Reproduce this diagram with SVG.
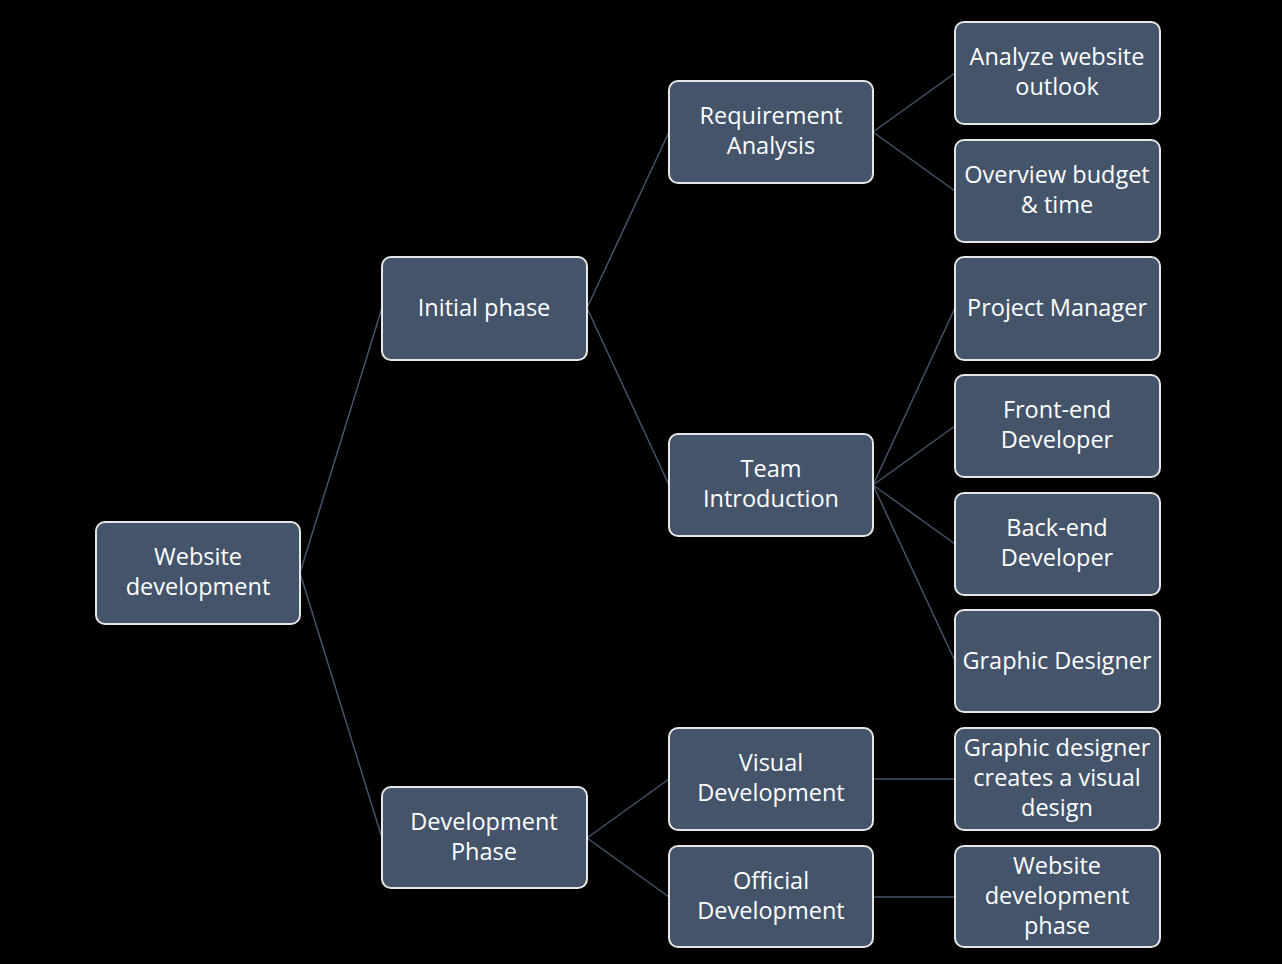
<svg xmlns="http://www.w3.org/2000/svg" width="1282" height="964" viewBox="0 0 1282 964">
<style>
.n rect{fill:#44546A;stroke:#E6E6E6;stroke-width:2}
.n text{fill:#FFFFFF;font-family:"Open Sans","Noto Sans",sans-serif;font-size:23.5px;text-anchor:middle}
.c line{stroke:#44546A;stroke-width:1.5}
</style>
<rect width="1282" height="964" fill="#000000"/>
<g class="c">
<line x1="300" y1="573" x2="382" y2="308"/>
<line x1="300" y1="573" x2="382" y2="838"/>
<line x1="587" y1="308" x2="669" y2="132"/>
<line x1="587" y1="308" x2="669" y2="485"/>
<line x1="587" y1="838" x2="669" y2="779"/>
<line x1="587" y1="838" x2="669" y2="897"/>
<line x1="873" y1="132" x2="955" y2="73"/>
<line x1="873" y1="132" x2="955" y2="191"/>
<line x1="873" y1="485" x2="955" y2="308"/>
<line x1="873" y1="485" x2="955" y2="426"/>
<line x1="873" y1="485" x2="955" y2="544"/>
<line x1="873" y1="485" x2="955" y2="661"/>
<line x1="873" y1="779" x2="955" y2="779"/>
<line x1="873" y1="897" x2="955" y2="897"/>
</g>
<g id="website-development" class="n"><rect x="96" y="522" width="204" height="102" rx="9"/><text x="198" y="565">Website</text><text x="198" y="595">development</text></g>
<g id="initial-phase" class="n"><rect x="382" y="257" width="205" height="103" rx="9"/><text x="484" y="316">Initial phase</text></g>
<g id="development-phase" class="n"><rect x="382" y="787" width="205" height="101" rx="9"/><text x="484" y="830">Development</text><text x="484" y="860">Phase</text></g>
<g id="requirement-analysis" class="n"><rect x="669" y="81" width="204" height="102" rx="9"/><text x="771" y="124">Requirement</text><text x="771" y="154">Analysis</text></g>
<g id="team-introduction" class="n"><rect x="669" y="434" width="204" height="102" rx="9"/><text x="771" y="477">Team</text><text x="771" y="507">Introduction</text></g>
<g id="visual-development" class="n"><rect x="669" y="728" width="204" height="102" rx="9"/><text x="771" y="771">Visual</text><text x="771" y="801">Development</text></g>
<g id="official-development" class="n"><rect x="669" y="846" width="204" height="101" rx="9"/><text x="771" y="889">Official</text><text x="771" y="919">Development</text></g>
<g id="analyze-website-outlook" class="n"><rect x="955" y="22" width="205" height="102" rx="9"/><text x="1057" y="65">Analyze website</text><text x="1057" y="95">outlook</text></g>
<g id="overview-budget" class="n"><rect x="955" y="140" width="205" height="102" rx="9"/><text x="1057" y="183">Overview budget</text><text x="1057" y="213">&amp; time</text></g>
<g id="project-manager" class="n"><rect x="955" y="257" width="205" height="103" rx="9"/><text x="1057" y="316">Project Manager</text></g>
<g id="front-end-developer" class="n"><rect x="955" y="375" width="205" height="102" rx="9"/><text x="1057" y="418">Front-end</text><text x="1057" y="448">Developer</text></g>
<g id="back-end-developer" class="n"><rect x="955" y="493" width="205" height="102" rx="9"/><text x="1057" y="536">Back-end</text><text x="1057" y="566">Developer</text></g>
<g id="graphic-designer" class="n"><rect x="955" y="610" width="205" height="102" rx="9"/><text x="1057" y="669">Graphic Designer</text></g>
<g id="graphic-designer-visual" class="n"><rect x="955" y="728" width="205" height="102" rx="9"/><text x="1057" y="756">Graphic designer</text><text x="1057" y="786">creates a visual</text><text x="1057" y="816">design</text></g>
<g id="website-development-phase" class="n"><rect x="955" y="846" width="205" height="101" rx="9"/><text x="1057" y="874">Website</text><text x="1057" y="904">development</text><text x="1057" y="934">phase</text></g>
</svg>
